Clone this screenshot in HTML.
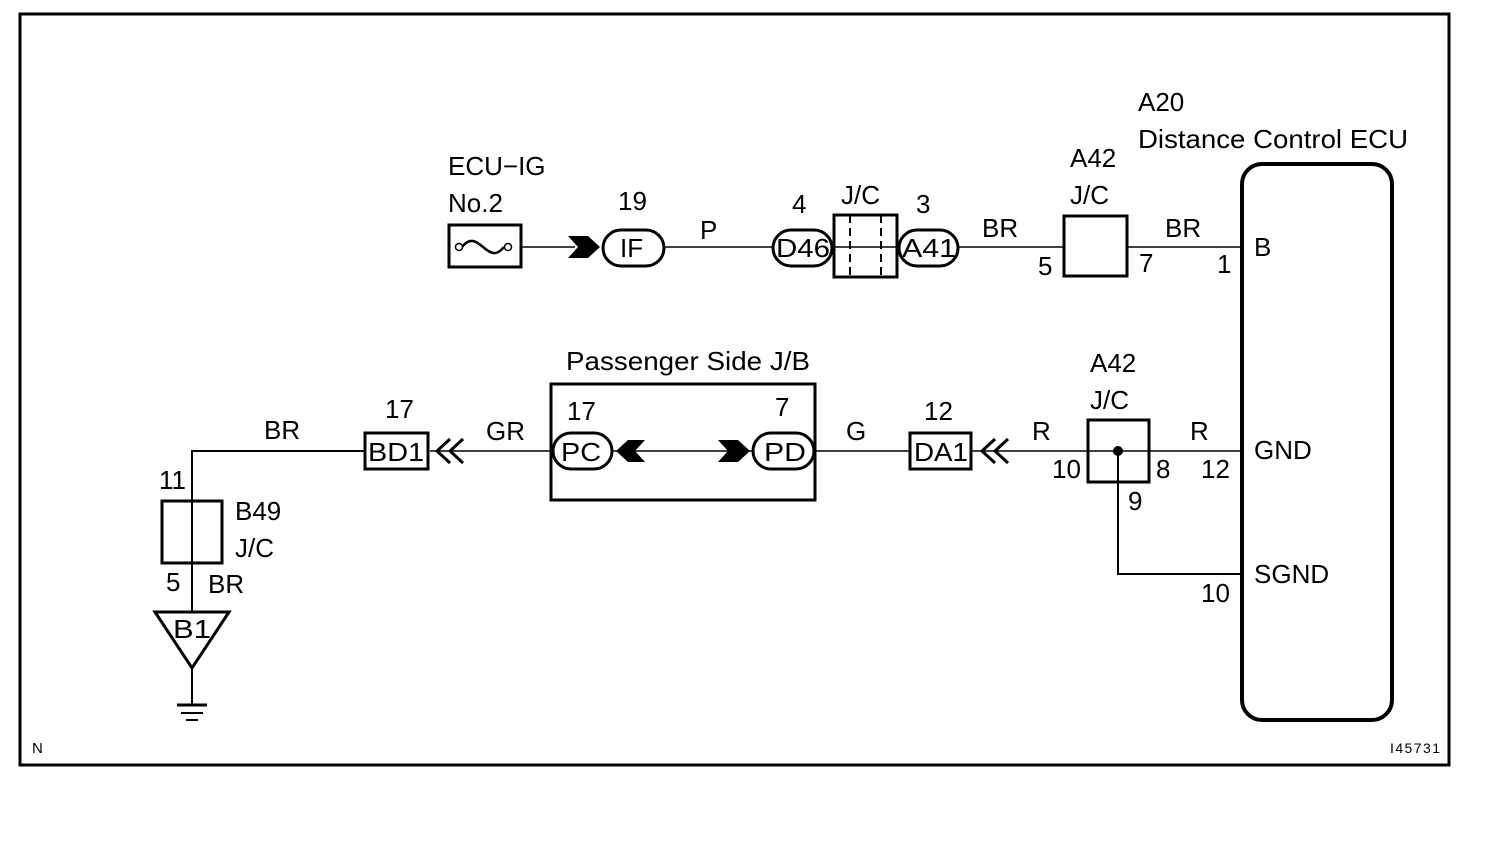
<!DOCTYPE html>
<html><head><meta charset="utf-8"><style>
html,body{margin:0;padding:0;background:#fff;}
svg{display:block;}
text{font-family:"Liberation Sans",Arial,sans-serif;font-size:26px;fill:#000;}
</style></head><body>
<svg width="1504" height="846" viewBox="0 0 1504 846" xmlns="http://www.w3.org/2000/svg">
<rect x="20" y="14" width="1429" height="751" fill="none" stroke="#000" stroke-width="3"/>
<g fill="none" stroke="#000">
<rect x="1242" y="164" width="150" height="556" rx="20" stroke-width="4"/>
<line x1="522" y1="247" x2="575" y2="247" stroke-width="1.5"/>
<line x1="664" y1="247" x2="773" y2="247" stroke-width="1.5"/>
<line x1="833" y1="247" x2="898" y2="247" stroke-width="1.5"/>
<line x1="958" y1="247" x2="1064" y2="247" stroke-width="1.5"/>
<line x1="1127" y1="247" x2="1242" y2="247" stroke-width="1.5"/>
<rect x="449" y="225" width="72" height="42" stroke-width="3"/>
<path d="M462 247 C470 237 476 241 483 247 C490 253 496 257 504 247" stroke-width="2.5"/>
<circle cx="459" cy="247" r="3.5" stroke-width="1.5" fill="#fff"/>
<circle cx="508" cy="247" r="3.5" stroke-width="1.5" fill="#fff"/>
<rect x="603" y="230" width="61" height="36" rx="18" stroke-width="3"/>
<rect x="773" y="230" width="59" height="36" rx="18" stroke-width="3"/>
<rect x="834" y="215" width="63" height="62" stroke-width="3"/>
<line x1="850" y1="215" x2="850" y2="277" stroke-width="2" stroke-dasharray="8,5"/>
<line x1="881" y1="215" x2="881" y2="277" stroke-width="2" stroke-dasharray="8,5"/>
<rect x="899" y="230" width="59" height="36" rx="18" stroke-width="3"/>
<rect x="1064" y="216" width="63" height="60" stroke-width="3"/>
<polyline points="364,451 192,451 192,612" stroke-width="2"/>
<line x1="192" y1="668" x2="192" y2="704" stroke-width="2"/>
<line x1="430" y1="451" x2="552" y2="451" stroke-width="1.5"/>
<line x1="612" y1="451" x2="752" y2="451" stroke-width="1.5"/>
<line x1="814" y1="451" x2="910" y2="451" stroke-width="1.5"/>
<line x1="972" y1="451" x2="1242" y2="451" stroke-width="1.5"/>
<polyline points="1118,451 1118,574 1242,574" stroke-width="2"/>
<rect x="365" y="433" width="63" height="36" stroke-width="3"/>
<path d="M450 439 L437 451 L450 463 M463 439 L450 451 L463 463" stroke-width="3"/>
<rect x="551" y="384" width="264" height="116" stroke-width="3"/>
<rect x="553" y="433" width="59" height="36" rx="18" stroke-width="3"/>
<rect x="753" y="433" width="61" height="36" rx="18" stroke-width="3"/>
<rect x="910" y="433" width="61" height="36" stroke-width="3"/>
<path d="M995 439 L982 451 L995 463 M1008 439 L995 451 L1008 463" stroke-width="3"/>
<rect x="1088" y="420" width="61" height="62" stroke-width="3"/>
<rect x="162" y="501" width="60" height="62" stroke-width="3"/>
<polygon points="155,612 229,612 192,668" stroke-width="3"/>
<line x1="177" y1="705" x2="207" y2="705" stroke-width="3"/>
<line x1="181" y1="713" x2="203" y2="713" stroke-width="2"/>
<line x1="186" y1="720" x2="198" y2="720" stroke-width="2"/>
</g>
<g fill="#000">
<polygon points="568,236 588,236 600,247 588,258 568,258 578,247"/>
<polygon points="645,440 628,440 616,451 628,462 645,462 635,451"/>
<polygon points="718,440 738,440 750,451 738,462 718,462 728,451"/>
<circle cx="1118" cy="451" r="5"/>
</g>
<text x="448" y="175">ECU−IG</text>
<text x="448" y="212">No.2</text>
<text x="618" y="210">19</text>
<text x="620" y="257">IF</text>
<text x="700" y="239">P</text>
<text x="792" y="213">4</text>
<text x="841" y="204">J/C</text>
<text x="916" y="213">3</text>
<text x="776" y="257" textLength="54" lengthAdjust="spacingAndGlyphs">D46</text>
<text x="902" y="257" textLength="54" lengthAdjust="spacingAndGlyphs">A41</text>
<text x="982" y="237">BR</text>
<text x="1070" y="167">A42</text>
<text x="1070" y="204">J/C</text>
<text x="1038" y="275">5</text>
<text x="1139" y="272">7</text>
<text x="1165" y="237">BR</text>
<text x="1217" y="273">1</text>
<text x="1254" y="256">B</text>
<text x="1138" y="111">A20</text>
<text x="1138" y="148" textLength="270" lengthAdjust="spacingAndGlyphs">Distance Control ECU</text>
<text x="566" y="370" textLength="244" lengthAdjust="spacingAndGlyphs">Passenger Side J/B</text>
<text x="567" y="420">17</text>
<text x="775" y="416">7</text>
<text x="561" y="461" textLength="40" lengthAdjust="spacingAndGlyphs">PC</text>
<text x="764" y="461" textLength="42" lengthAdjust="spacingAndGlyphs">PD</text>
<text x="846" y="440">G</text>
<text x="924" y="420">12</text>
<text x="914" y="461" textLength="54" lengthAdjust="spacingAndGlyphs">DA1</text>
<text x="1032" y="440">R</text>
<text x="1090" y="372">A42</text>
<text x="1090" y="409">J/C</text>
<text x="1190" y="440">R</text>
<text x="1052" y="478">10</text>
<text x="1156" y="478">8</text>
<text x="1201" y="478">12</text>
<text x="1128" y="510">9</text>
<text x="1254" y="459">GND</text>
<text x="1254" y="583">SGND</text>
<text x="1201" y="602">10</text>
<text x="385" y="418">17</text>
<text x="368" y="461" textLength="56" lengthAdjust="spacingAndGlyphs">BD1</text>
<text x="486" y="440">GR</text>
<text x="264" y="439">BR</text>
<text x="159" y="489">11</text>
<text x="235" y="520">B49</text>
<text x="235" y="557">J/C</text>
<text x="166" y="591">5</text>
<text x="208" y="593">BR</text>
<text x="173" y="638" textLength="38" lengthAdjust="spacingAndGlyphs">B1</text>
<text x="32" y="753" style="font-size:15px">N</text>
<text x="1390" y="753" style="font-size:14px" textLength="50">I45731</text>
</svg>
</body></html>
